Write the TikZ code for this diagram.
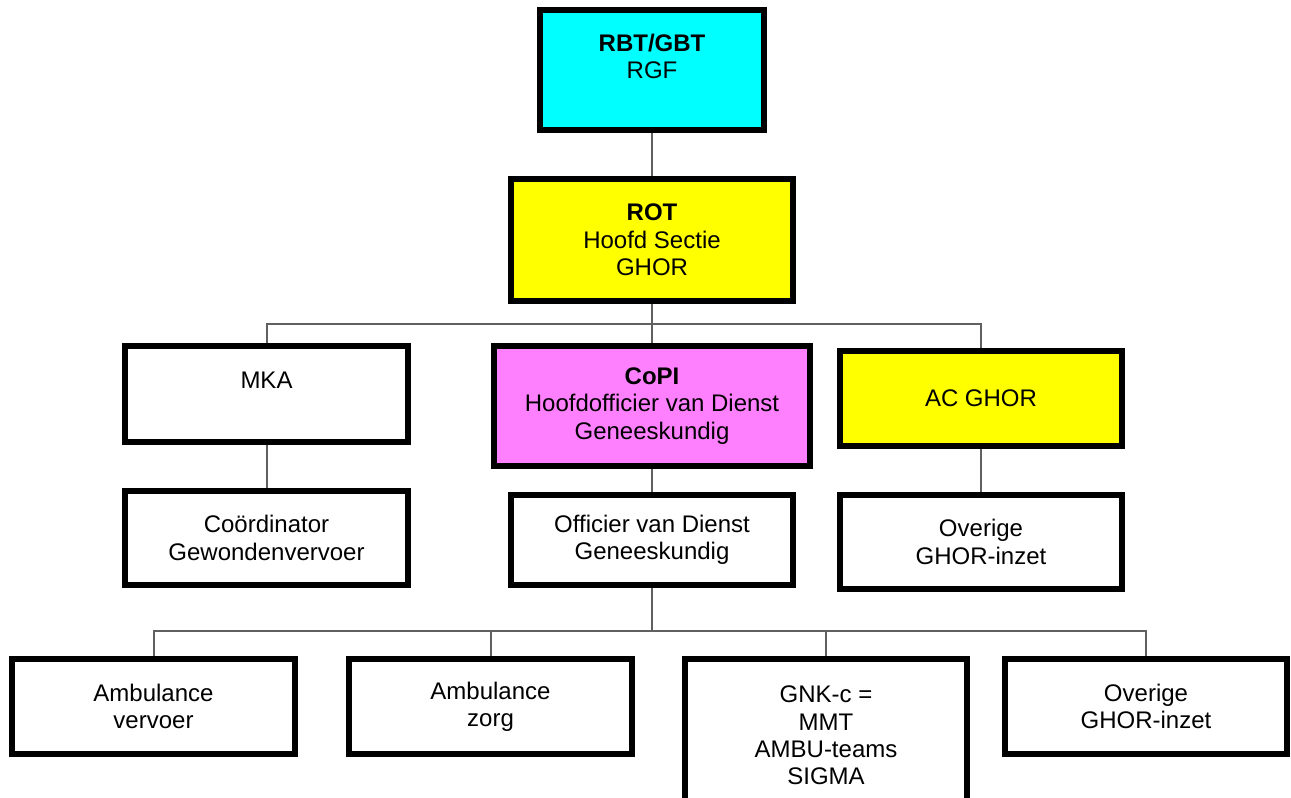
\documentclass[tikz,border=0pt]{standalone}
\usepackage{fontspec}
\setmainfont{Liberation Sans}
\usepackage{xcolor}
\usetikzlibrary{positioning}
\definecolor{rgfcyan}{HTML}{00FFFF}
\definecolor{rotyellow}{HTML}{FFFF00}
\definecolor{copipink}{HTML}{FF80FF}
\definecolor{linkgray}{HTML}{606060}

\begin{document}
\begin{tikzpicture}[
    x=0.75pt, y=-0.75pt,
    every node/.style={align=center, font=\fontsize{18}{20.5}\selectfont},
    orgbox/.style={draw, line width=4.5pt, minimum width=212pt, minimum height=71pt, inner sep=2pt, fill=white},
    link/.style={draw=linkgray, line width=1.5pt}
]
\useasboundingbox (0,0) rectangle (1291,798);
\fill[white] (0,0) rectangle (1291,798);
\clip (0,0) rectangle (1291,798);

% Top: regional teams
\node[orgbox, fill=rgfcyan, minimum width=168pt, minimum height=90pt] (rbt) at (652,70) {\textbf{RBT/GBT}\\RGF\\\mbox{}};
\node[orgbox, fill=rotyellow, minimum height=92pt, below=32pt of rbt] (rot) {\textbf{ROT}\\Hoofd Sectie\\GHOR};

\draw[link] (rbt) -- (rot);

% Middle row
\node[orgbox, minimum height=72pt] (mka) at (266.5,394) {MKA\\\mbox{}};
\node[orgbox, fill=copipink, minimum width=237pt, minimum height=90pt] (copi) at (652,406) {\textbf{CoPI}\\Hoofdofficier van Dienst\\Geneeskundig};
\node[orgbox, fill=rotyellow] (ac) at (981,398.5) {AC GHOR};

\coordinate (topbus) at (652,324);
\draw[link] (rot.south) -- (topbus);
\draw[link] (mka.north) |- (topbus) -| (ac.north);
\draw[link] (topbus) -- (copi.north);

% Second row
\node[orgbox, below=32pt of mka] (coord) {Coördinator\\Gewondenvervoer};
\node[orgbox, minimum height=68pt, below=17pt of copi] (odg) {Officier van Dienst\\Geneeskundig};
\node[orgbox, below=32pt of ac] (ovr1) {Overige\\GHOR-inzet};

\draw[link] (mka) -- (coord);
\draw[link] (copi) -- (odg);
\draw[link] (ac) -- (ovr1);

% Bottom row
\node[orgbox] (amb1) at (153.5,706.5) {Ambulance\\vervoer};
\node[orgbox] (amb2) at (490.5,706.5) {Ambulance\\zorg};
\node[orgbox, minimum height=115pt] (gnk) at (826,735.5) {GNK-c =\\MMT\\AMBU-teams\\SIGMA};
\node[orgbox] (ovr2) at (1146,706.5) {Overige\\GHOR-inzet};

\coordinate (lowbus) at (652,631);
\draw[link] (odg.south) -- (lowbus);
\draw[link] (amb1.north) |- (lowbus) -| (ovr2.north);
\draw[link] (amb2.north |- lowbus) -- (amb2.north);
\draw[link] (gnk.north |- lowbus) -- (gnk.north);

\end{tikzpicture}
\end{document}
